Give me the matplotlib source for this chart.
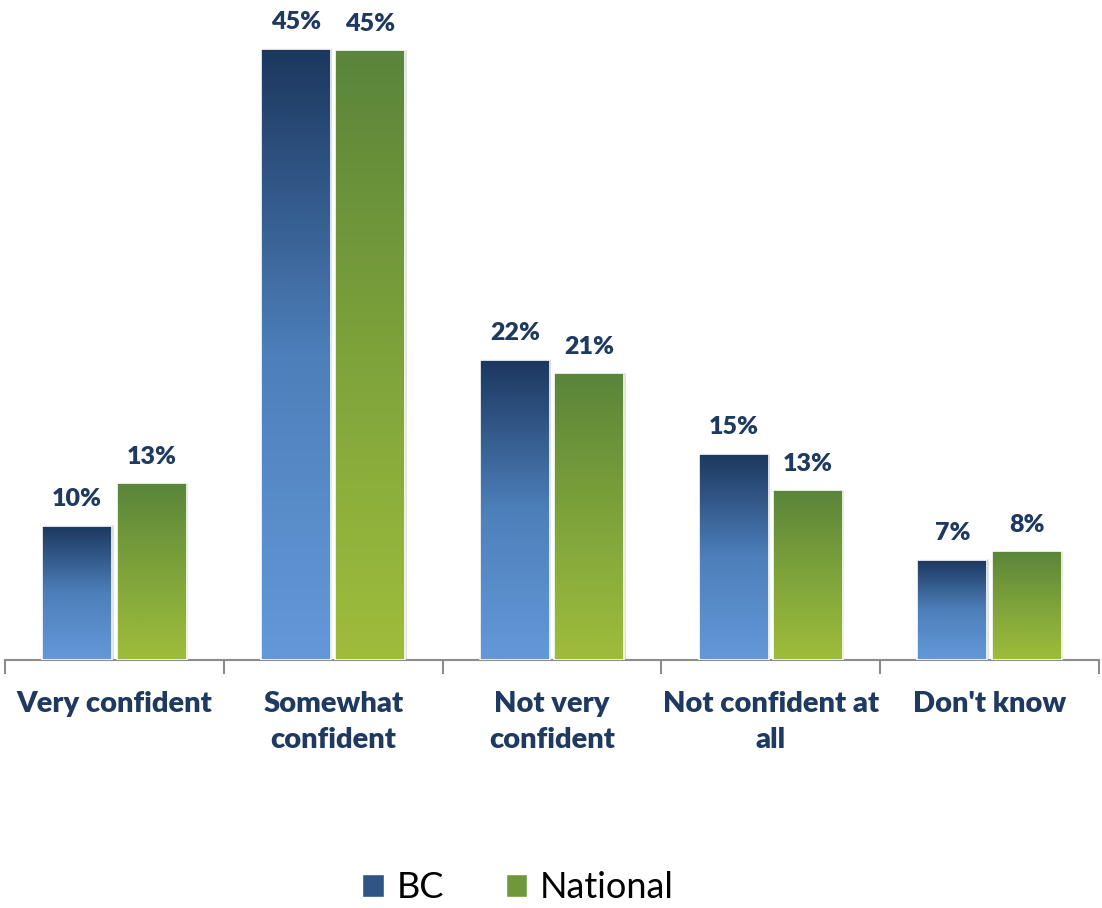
import numpy as np
import matplotlib
matplotlib.use("Agg")
import matplotlib.pyplot as plt
from matplotlib.colors import LinearSegmentedColormap
from matplotlib.patches import Rectangle

categories = ["Very confident", "Somewhat\nconfident", "Not very\nconfident",
              "Not confident at\nall", "Don't know"]
bc_values = [9.9, 45.0, 22.1, 15.2, 7.4]
national_values = [13.0, 44.9, 21.1, 12.5, 8.0]
bc_labels = ["10%", "45%", "22%", "15%", "7%"]
national_labels = ["13%", "45%", "21%", "13%", "8%"]
series_names = ["BC", "National"]

plt.rcParams['font.family'] = ['Lato', 'DejaVu Sans']

fig = plt.figure(figsize=(11.02, 9.08), dpi=100)
ax = fig.add_axes([5/1102, 1-660/908, 1094/1102, 660/908])

blue_cmap = LinearSegmentedColormap.from_list("b", ["#6399d9", "#4d7fba", "#1b375e"])
green_cmap = LinearSegmentedColormap.from_list("g", ["#9fbd3b", "#7ea33b", "#5a853a"])

x = np.arange(len(categories))
width = 0.32
offset = 0.17
label_color = "#1f3a60"

grad = np.linspace(0, 1, 256).reshape(-1, 1)

def draw(series, offs, cmap, labels):
    bars = ax.bar(x + offs, series, width, color="none", edgecolor="none", zorder=2)
    for b, lab in zip(bars, labels):
        x0, y0 = b.get_x(), b.get_y()
        w, h = b.get_width(), b.get_height()
        sh = Rectangle((x0 + 0.006, y0), w, h + 0.05, facecolor="#000000", alpha=0.12,
                       edgecolor="none", zorder=1.5)
        ax.add_patch(sh)
        im = ax.imshow(grad, cmap=cmap, aspect="auto", origin="lower",
                       extent=(x0, x0 + w, y0, y0 + h), zorder=2.5, interpolation="bilinear")
        im.set_clip_path(b)
        ax.add_patch(Rectangle((x0, y0), w, h, facecolor="none", edgecolor="white",
                               linewidth=1.2, zorder=3))
        ax.text(x0 + w / 2, y0 + h + 1.15, lab, ha="center", va="bottom",
                fontsize=18, fontweight="heavy", color=label_color, zorder=4)
    return bars

draw(bc_values, -offset, blue_cmap, bc_labels)
draw(national_values, offset, green_cmap, national_labels)

ax.set_xlim(-0.5, len(categories) - 0.5)
ax.set_ylim(0, 48.6)
for s in ["top", "right", "left"]:
    ax.spines[s].set_visible(False)
ax.spines["bottom"].set_color("#8c8c8c")
ax.spines["bottom"].set_linewidth(1.5)
ax.set_yticks([])
ax.set_xticks(np.arange(-0.5, len(categories)), minor=False)
ax.set_xticklabels([])
ax.tick_params(axis="x", which="major", length=10, width=1.5, color="#8c8c8c", direction="out")
ax.set_xticks(x, minor=True)
ax.set_xticklabels(categories, minor=True, fontsize=21, fontweight="heavy",
                   color=label_color, linespacing=1.5)
ax.tick_params(axis="x", which="minor", length=0, pad=22)

handles = [Rectangle((0, 0), 1, 1, facecolor=c, edgecolor="white")
           for c in ["#2f5585", "#6f983b"]]
fig.legend(handles, series_names, loc="center", bbox_to_anchor=(518/1102, 1-888/908),
           ncol=2, frameon=False, fontsize=26, handlelength=0.6, handleheight=0.6,
           columnspacing=1.7, handletextpad=0.35)

fig.savefig("out.png", dpi=100)
